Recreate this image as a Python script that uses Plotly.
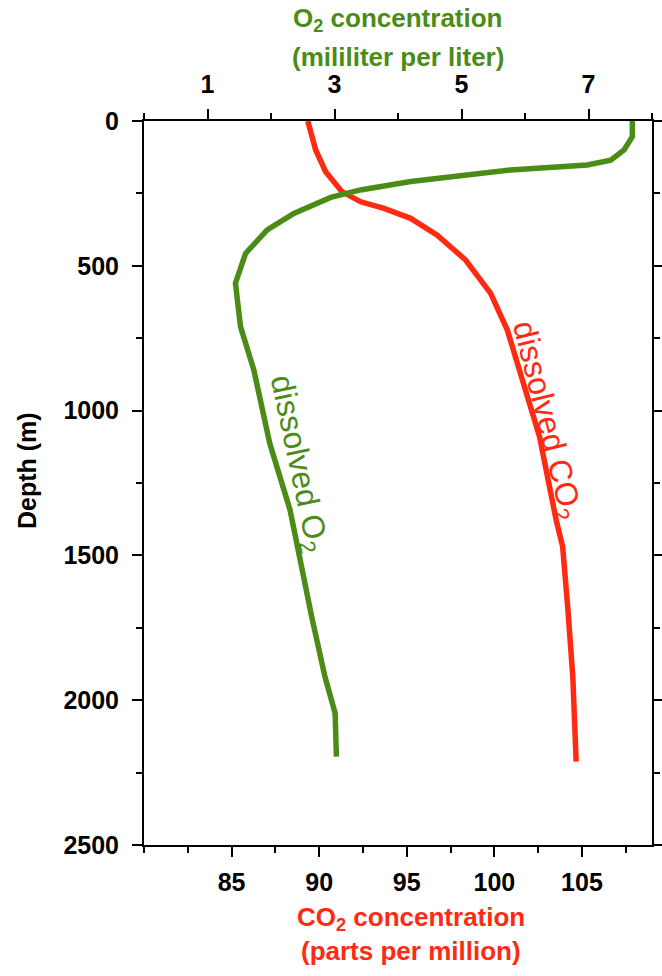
import plotly.graph_objects as go

# ---- data ----
o2_depth = [0, 54, 100, 135, 152, 169, 209, 238, 264, 319, 376, 457, 560, 710, 860,
            1113, 1343, 1573, 1711, 1919, 2045, 2195]
o2_conc = [7.69, 7.69, 7.56, 7.35, 6.98, 5.77, 4.20, 3.41, 2.94, 2.36, 1.94, 1.60, 1.44,
           1.52, 1.73, 1.98, 2.30, 2.51, 2.64, 2.85, 3.01, 3.03]

co2_depth = [0, 100, 175, 244, 279, 302, 336, 394, 480, 595, 722, 860, 1090, 1378, 1470,
             1688, 1919, 2212]
co2_conc = [89.35, 89.8, 90.37, 91.3, 92.37, 93.7, 95.22, 96.74, 98.36, 99.79, 100.74,
            101.4, 102.58, 103.53, 103.9, 104.2, 104.48, 104.67]

co2_ticks = [85, 90, 95, 100, 105]
o2_ticks = [1, 3, 5, 7]
depth_ticks = [0, 500, 1000, 1500, 2000, 2500]

GREEN = "#4b8c17"
RED = "#ff2a12"
FONT = "Liberation Sans, Arial, Helvetica, sans-serif"

# page body margin is removed (post_script below), so figure = window
W, H = 662, 976
PL, PR, PT, PB = 144, 652, 121, 845          # plot box in window pixels
L, T = PL, PT
R = W - PR
B = H - PB


def py(px):
    return (PB - px) / (PB - PT)


def pxx(px):
    return (px - PL) / (PR - PL)


fig = go.Figure()
fig.add_trace(go.Scatter(x=co2_conc, y=co2_depth, mode="lines", xaxis="x", yaxis="y",
                         line=dict(color=RED, width=5.5), showlegend=False,
                         hoverinfo="skip"))
fig.add_trace(go.Scatter(x=o2_conc, y=o2_depth, mode="lines", xaxis="x2", yaxis="y",
                         line=dict(color=GREEN, width=5.5), showlegend=False,
                         hoverinfo="skip"))

tickfont = dict(family=FONT, size=25, color="black", weight="bold")

fig.update_layout(
    width=W, height=H,
    margin=dict(l=L, r=R, t=T, b=B, pad=0),
    paper_bgcolor="white", plot_bgcolor="white",
    xaxis=dict(range=[80, 109], tickvals=co2_ticks, ticks="outside", ticklen=10,
               tickwidth=2, tickcolor="black", showline=True, linewidth=2,
               linecolor="black", showgrid=False, zeroline=False, tickfont=tickfont,
               ticklabelstandoff=4, automargin=False,
               minor=dict(tick0=80, dtick=2.5, ticks="outside", ticklen=6,
                          tickwidth=2, tickcolor="black", showgrid=False)),
    xaxis2=dict(range=[0, 8], tickvals=o2_ticks, overlaying="x", side="top",
                ticks="outside", ticklen=10, tickwidth=2, tickcolor="black",
                showline=True, linewidth=2, linecolor="black", showgrid=False,
                zeroline=False, tickfont=tickfont, ticklabelstandoff=6, automargin=False,
                minor=dict(tick0=0, dtick=1, ticks="outside", ticklen=6,
                           tickwidth=2, tickcolor="black", showgrid=False)),
    yaxis=dict(range=[2500, 0], tickvals=depth_ticks, ticks="outside", ticklen=10,
               tickwidth=2, tickcolor="black", showline=True, linewidth=2,
               linecolor="black", mirror="ticks", showgrid=False, zeroline=False,
               tickfont=tickfont, ticklabelstandoff=8, automargin=False,
               minor=dict(tick0=0, dtick=250, ticks="outside", ticklen=6,
                          tickwidth=2, tickcolor="black", showgrid=False)),
)

ann = []
tf = dict(family=FONT, size=26, weight="bold")
ann.append(dict(text="O<sub>2</sub> concentration", x=pxx(398), y=py(20),
                font=dict(tf, color=GREEN)))
ann.append(dict(text="(mililiter per liter)", x=pxx(398), y=py(57),
                font=dict(tf, color=GREEN)))
ann.append(dict(text="CO<sub>2</sub> concentration", x=pxx(411), y=py(919),
                font=dict(tf, color=RED)))
ann.append(dict(text="(parts per million)", x=pxx(411), y=py(951),
                font=dict(tf, color=RED)))
ann.append(dict(text="Depth (m)", x=pxx(27), y=py(471), textangle=-90,
                font=dict(family="Liberation Sans Narrow, Arial Narrow, " + FONT,
                          size=25, weight="bold", color="black")))
lf = dict(family=FONT, size=32)
ann.append(dict(text="dissolved O<sub>2</sub>", x=pxx(298), y=py(464), textangle=78,
                font=dict(lf, color=GREEN)))
ann.append(dict(text="dissolved CO<sub>2</sub>", x=pxx(546), y=py(420), textangle=76,
                font=dict(lf, color=RED)))
for a in ann:
    a.update(xref="paper", yref="paper", showarrow=False, xanchor="center",
             yanchor="middle")
fig.update_layout(annotations=ann)

fig.write_html(
    "out.html",
    config={"displayModeBar": False},
    post_script="document.body.style.margin='0';document.body.style.overflow='hidden';",
)
